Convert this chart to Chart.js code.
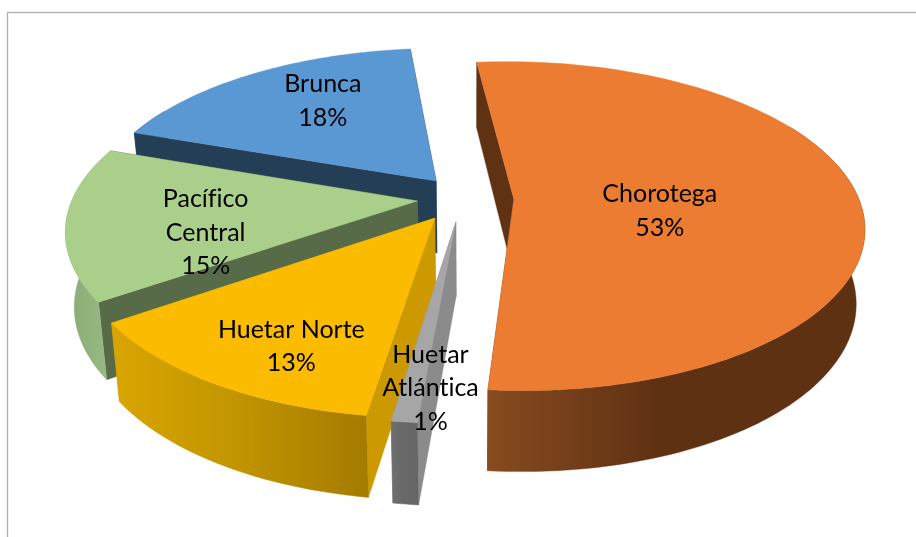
<!DOCTYPE html>
<html><head><meta charset="utf-8">
<style>html,body{margin:0;padding:0;background:#fff}canvas{display:block}</style>
<script src="https://cdn.jsdelivr.net/npm/chart.js@4"></script>
</head><body><canvas id="c" width="916" height="537"></canvas>
<script>
const categories = ["Chorotega","Huetar Atlántica","Huetar Norte","Pacífico Central","Brunca"];
const values = [53,1,13,15,18];
const labelLines = [["Chorotega"],["Huetar","Atlántica"],["Huetar Norte"],["Pacífico","Central"],["Brunca"]];
const topColors = ["#eb7c31","#a6a6a6","#fbbc00","#a9cf8a","#5a98d4"];
const cutColors = ["#5f3214","#8b8b8b","#cc9a00","#586b48","#243e55"];
const rimColors = [["#874b1f","#5f3113","#5f3113"],["#6f6f6f","#686868","#666666"],["#d9a600","#c49600","#a57b00"],["#8aa976","#90b27b","#97ba84"],["#243e55","#243e55","#243e55"]];
const explodeU = [0.127,-0.040,-0.100,-0.152,-0.100];
const explodeV = [0,0.140,0.117,0.012,-0.115];
const labelU = [0.417,-0.056,-0.350,-0.589,-0.375];
const labelV = [0.068,0.844,0.677,0.187,-0.574];
const paintOrder = [0,4,3,2,1];
const view = {cx:470,cy:199,a:345,b:160,p:0.165,shrink:0.978,depth:73,depthSlope:8};

function project(u,v){
  const s = 1/(1-view.p*v);
  return {x:view.cx+view.a*u*s, y:view.cy+view.b*v*s};
}
function lower(pt,v){
  return {x:view.cx+(pt.x-view.cx)*view.shrink, y:pt.y+view.depth+view.depthSlope*v};
}
function poly(ctx,pts,fill){
  ctx.beginPath();
  pts.forEach((q,i)=> i?ctx.lineTo(q.x,q.y):ctx.moveTo(q.x,q.y));
  ctx.closePath();
  ctx.fillStyle=fill; ctx.strokeStyle=fill; ctx.lineWidth=0.4;
  ctx.fill(); ctx.stroke();
}
class Pie3DController extends Chart.PieController {
  draw(){
    const ctx=this.chart.ctx, arcs=this.getMeta().data;
    paintOrder.forEach(i=>{
      const arc=arcs[i], du=explodeU[i], dv=explodeV[i];
      const steps=Math.max(6,Math.ceil((arc.endAngle-arc.startAngle)*40));
      const rimTop=[], rimLow=[], shownTop=[], shownLow=[];
      for(let k=0;k<=steps;k++){
        const t=arc.startAngle+(arc.endAngle-arc.startAngle)*k/steps;
        const u=du+Math.cos(t), v=dv+Math.sin(t), pt=project(u,v), low=lower(pt,v);
        rimTop.push(pt); rimLow.push(low);
        if(Math.sin(t)>-0.5){ shownTop.push(pt); shownLow.push(low); }
      }
      const apex=project(du,dv), apexLow=lower(apex,dv);
      poly(ctx,[apex,rimTop[0],rimLow[0],apexLow],cutColors[i]);
      poly(ctx,[apex,rimTop[steps],rimLow[steps],apexLow],cutColors[i]);
      if(shownTop.length>1){
        const xs=shownTop.map(q=>q.x), x0=Math.min(...xs), x1=Math.max(...xs);
        const g=ctx.createLinearGradient(x0,0,x1,0);
        g.addColorStop(0,rimColors[i][0]); g.addColorStop(0.45,rimColors[i][1]); g.addColorStop(1,rimColors[i][2]);
        poly(ctx,shownTop.concat(shownLow.slice().reverse()),g);
      }
      poly(ctx,[apex].concat(rimTop),arc.options.backgroundColor);
    });
  }
}
Pie3DController.id='pie3d';
Pie3DController.defaults={};
Chart.register(Pie3DController);

const framePlugin={id:'frame',beforeDraw(chart){
  const c=chart.ctx; c.save(); c.strokeStyle='#b0b0b0'; c.lineWidth=1.3;
  c.strokeRect(7.5,12.5,930,550); c.restore();
}};
const labelPlugin={id:'sliceLabels',afterDraw(chart){
  const c=chart.ctx, h=33.5; c.save();
  c.font='25px Lato'; c.textRendering='optimizeSpeed'; c.fillStyle='#000'; c.textAlign='center'; c.textBaseline='middle';
  values.forEach((val,i)=>{
    const pt=project(explodeU[i]+labelU[i],explodeV[i]+labelV[i]);
    const lines=labelLines[i].concat([val+'%']);
    lines.forEach((t,j)=>c.fillText(t,pt.x,pt.y+1+(j-(lines.length-1)/2)*h));
  });
  c.restore();
}};
new Chart(document.getElementById('c'),{
  type:'pie3d',
  data:{labels:categories,datasets:[{data:values,backgroundColor:topColors,borderWidth:0}]},
  options:{responsive:false,animation:false,events:[],rotation:-6,
    plugins:{legend:{display:false},tooltip:{enabled:false}}},
  plugins:[framePlugin,labelPlugin]
});
</script></body></html>
